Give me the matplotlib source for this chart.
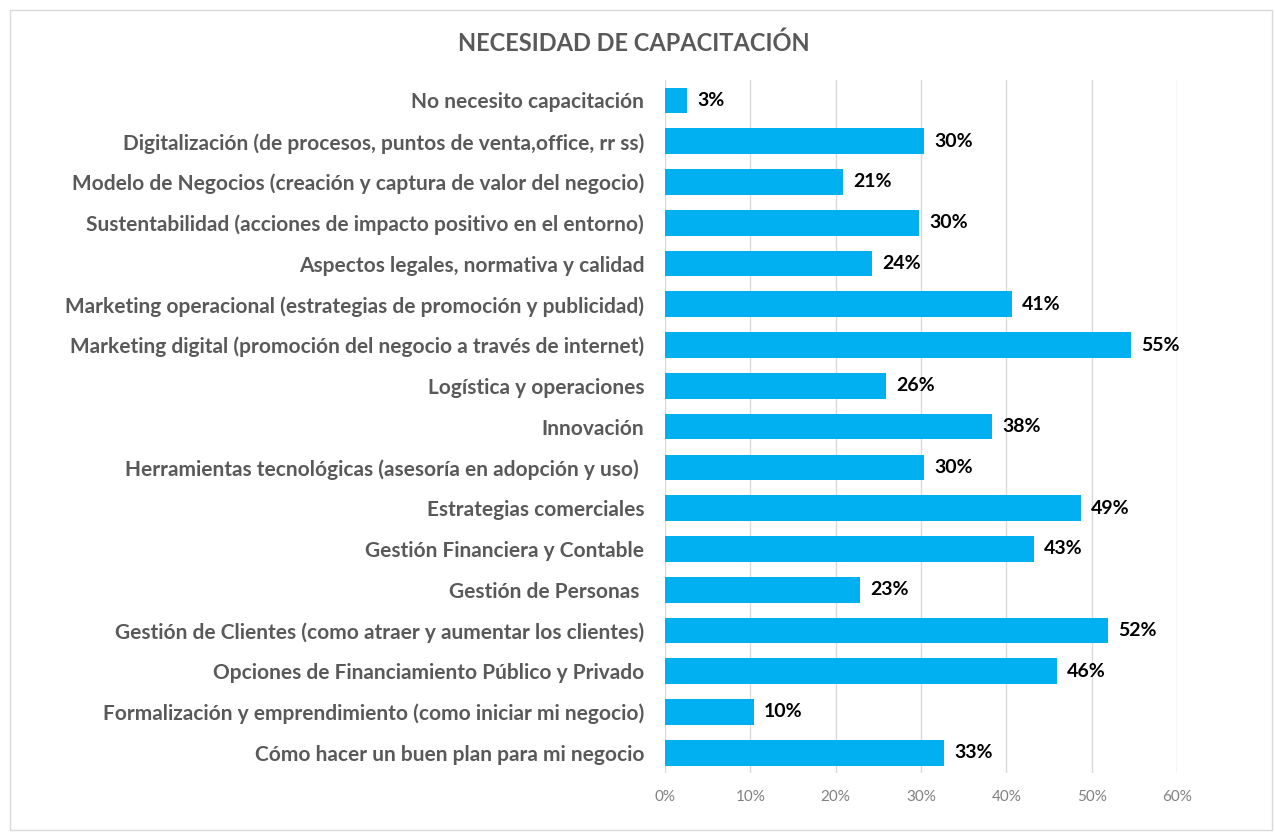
import matplotlib.pyplot as plt
from matplotlib.patches import Rectangle

categories = [
    "No necesito capacitación",
    "Digitalización (de procesos, puntos de venta,office, rr ss)",
    "Modelo de Negocios (creación y captura de valor del negocio)",
    "Sustentabilidad (acciones de impacto positivo en el entorno)",
    "Aspectos legales, normativa y calidad",
    "Marketing operacional (estrategias de promoción y publicidad)",
    "Marketing digital (promoción del negocio a través de internet)",
    "Logística y operaciones",
    "Innovación",
    "Herramientas tecnológicas (asesoría en adopción y uso) ",
    "Estrategias comerciales",
    "Gestión Financiera y Contable",
    "Gestión de Personas ",
    "Gestión de Clientes (como atraer y aumentar los clientes)",
    "Opciones de Financiamiento Público y Privado",
    "Formalización y emprendimiento (como iniciar mi negocio)",
    "Cómo hacer un buen plan para mi negocio",
]
values = [0.026, 0.303, 0.208, 0.298, 0.242, 0.406, 0.546, 0.259, 0.383,
          0.303, 0.487, 0.432, 0.228, 0.519, 0.459, 0.104, 0.327]
ticks = [0, 0.1, 0.2, 0.3, 0.4, 0.5, 0.6]

plt.rcParams['font.family'] = ['Lato', 'DejaVu Sans']

fig = plt.figure(figsize=(12.75, 8.34), dpi=100)
fig.patches.append(Rectangle((0.008, 0.005), 0.99, 0.983, transform=fig.transFigure,
                             fill=False, edgecolor='#d9d9d9', lw=1))
ax = fig.add_axes([0.5216, 0.073, 0.4016, 0.831])

y = list(range(len(categories)))
ax.barh(y, values, height=0.63, color='#00b0f0', zorder=2)
for yi, v in zip(y, values):
    ax.text(v + 0.012, yi, f"{round(v * 100):.0f}%", va='center', ha='left',
            fontsize=14, fontweight='bold', color='black')

ax.set_ylim(len(categories) - 0.5, -0.5)
ax.set_xlim(0, 0.6)
ax.set_xticks(ticks)
ax.set_xticklabels([f"{int(t * 100)}%" for t in ticks], color='#808080', fontsize=11)
ax.set_yticks(y)
ax.set_yticklabels(categories, fontsize=15, fontweight='bold', color='#595959')
ax.tick_params(axis='both', length=0)
ax.tick_params(axis='y', pad=15)
ax.tick_params(axis='x', pad=12)
ax.grid(axis='x', color='#d9d9d9', lw=1, zorder=0)
for s in ax.spines.values():
    s.set_visible(False)

fig.text(0.497, 0.948, "NECESIDAD DE CAPACITACIÓN", ha='center', va='center',
         fontsize=17, fontweight='bold', color='#595959')

fig.savefig("out.png", dpi=100)
